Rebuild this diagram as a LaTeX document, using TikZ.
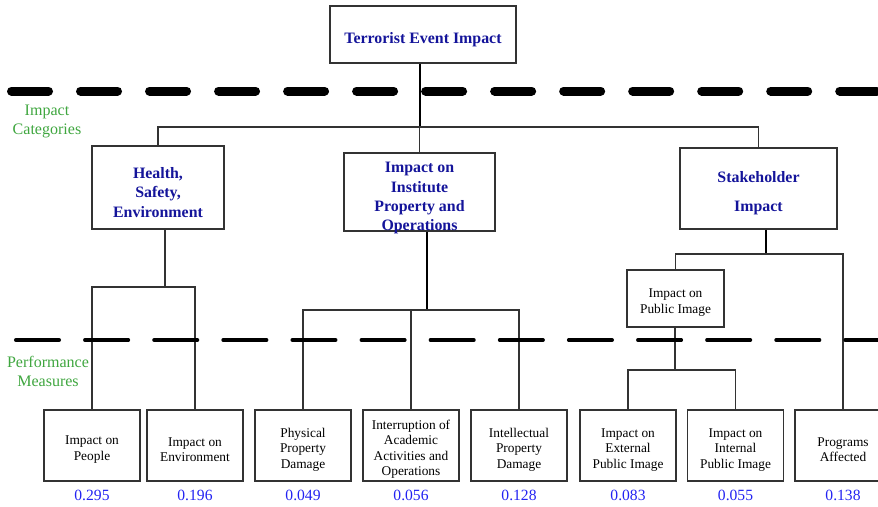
\documentclass[tikz,border=0pt]{standalone}
\usepackage{fontspec}
\setmainfont{Liberation Serif}
\usetikzlibrary{positioning}
\definecolor{cnavy}{HTML}{14149A}
\definecolor{cgreen}{HTML}{3FA63F}
\definecolor{cblue}{HTML}{2222F2}
\definecolor{cline}{HTML}{333333}
% extra height on the first line, so the text sits a bit low in its box
\newcommand{\catpad}{\rule{0pt}{14.8pt}}
\newcommand{\boxpad}{\rule{0pt}{12.2pt}}
\tikzset{
  every picture/.style={line width=0.75pt},
  box/.style={draw=cline, line width=1pt, align=center, inner sep=0pt, minimum width=2.4cm, minimum height=1.775cm,
    font=\fontsize{9.5}{11}\selectfont},
  catbox/.style={box, text=cnavy, font=\fontsize{11.3}{13.7}\selectfont\bfseries},
  link/.style={draw=cline, line width=0.75pt},
  trunk/.style={draw=black, line width=1.5pt},
  weight/.style={text=cblue, inner sep=2pt, font=\fontsize{11.1}{13}\selectfont},
  layer/.style={text=cgreen, align=center, font=\fontsize{11.4}{13.5}\selectfont},
  catsep/.style={line width=6.4pt, line cap=round, dash pattern=on 0.925cm off 0.8cm},
  measep/.style={line width=2.5pt, line cap=round, dash pattern=on 1.0875cm off 0.64cm},
}

\begin{document}
\begin{tikzpicture}[x=0.025cm, y=-0.025cm]
  \useasboundingbox (0,0) rectangle (878,506);
  % top of the hierarchy
  \node[catbox, minimum width=4.65cm, minimum height=1.425cm] (event) at (423,34.5) {\catpad Terrorist Event Impact};
  % impact categories
  \node[catbox, minimum width=3.3cm, minimum height=2.075cm] (hse) at (158,187.5) {\catpad Health,\\ Safety,\\ Environment};
  \node[catbox, minimum width=3.775cm, minimum height=1.95cm, text depth=0pt] (inst) at (419.5,192) {\rule{0pt}{14pt}Impact on\\ Institute\\ Property and\\ Operations};
  \node[catbox, minimum width=3.925cm, minimum height=2.025cm] (stake) at (758.5,188.5) {\catpad Stakeholder\\[7pt] Impact};
  \node[box, minimum width=2.425cm, minimum height=1.425cm] (pubimg) at (675.5,298.5) {\boxpad Impact on\\ Public Image};
  % performance measures
  \node[box] (people) at (92,445.5) {\boxpad Impact on\\ People};
  \node[box] (env) at (195,445.5) {\boxpad Impact on\\ Environment};
  \node[box] (phys) at (303,445.5) {\boxpad Physical\\ Property\\ Damage};
  \node[box] (interr) at (411,445.5) {\boxpad Interruption of\\ Academic\\ Activities and\\ Operations};
  \node[box] (intel) at (519,445.5) {\boxpad Intellectual\\ Property\\ Damage};
  \node[box] (ext) at (628,445.5) {\boxpad Impact on\\ External\\ Public Image};
  \node[box] (int) at (735.5,445.5) {\boxpad Impact on\\ Internal\\ Public Image};
  \node[box] (prog) at (843,445.5) {\boxpad Programs\\ Affected};
  % weights
  \foreach \n/\w in {people/0.295, env/0.196, phys/0.049, interr/0.056, intel/0.128, ext/0.083, int/0.055, prog/0.138}
    \node[weight, below=3.5pt of \n] (w-\n) {\w};
  % layer labels
  \node[layer] (catlabel) at (47,121) {Impact\\ Categories};
  \node[layer] (measlabel) at (48,371) {Performance\\ Measures};
  % junctions
  \coordinate (j-event) at (420,127);
  \coordinate (j-hse) at (165,287);
  \coordinate (j-inst) at (427,310);
  \coordinate (j-stake) at (766,254);
  \coordinate (j-pub) at (675,370);
  % connectors
  \draw[trunk] (event.south -| j-event) -- (j-event);
  \foreach \c in {hse, inst, stake} \draw[link] (j-event) -| (\c);
  \draw[link] (hse.south -| j-hse) -- (j-hse);
  \foreach \c in {people, env} \draw[link] (j-hse) -| (\c);
  \draw[trunk] (inst.south -| j-inst) -- (j-inst);
  \foreach \c in {phys, interr, intel} \draw[link] (j-inst) -| (\c);
  \draw[trunk] (stake.south -| j-stake) -- (j-stake);
  \foreach \c in {pubimg, prog} \draw[link] (j-stake) -| (\c);
  \draw[link] (pubimg.south -| j-pub) -- (j-pub);
  \foreach \c in {ext, int} \draw[link] (j-pub) -| (\c);
  % layer separators
  \draw[catsep] (11.5,91) -- (900,91);
  \draw[measep] (15.75,340) -- (900,340);
\end{tikzpicture}
\end{document}
